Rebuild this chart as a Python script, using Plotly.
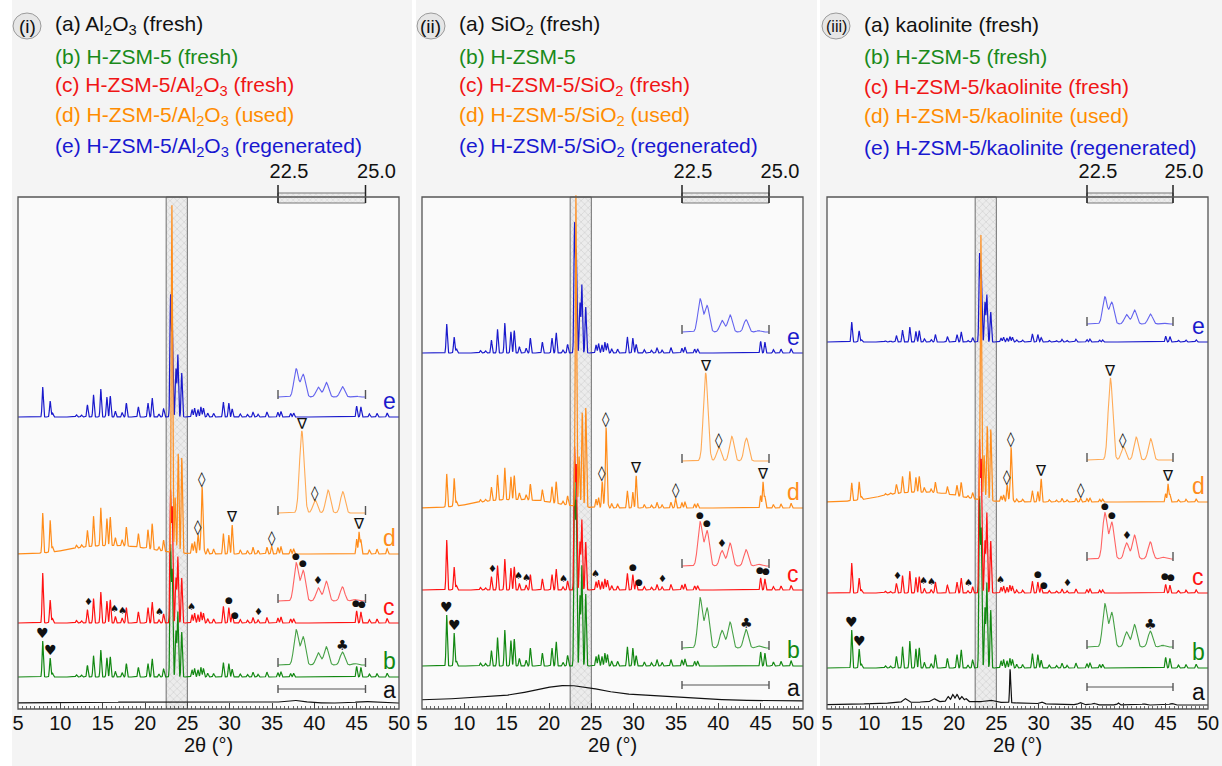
import numpy as np
import plotly.graph_objects as go

W, H = 1222, 766

# ---------------------------------------------------------------- data
X_RANGE = [5, 50]
X_TICKS = [5, 10, 15, 20, 25, 30, 35, 40, 45, 50]
BAND = [22.5, 25.0]
SERIES = ["b", "c", "d", "e"]

# H-ZSM-5 reflections outside the 22.5-25 window (height relative to the 14.8 deg peak)
ZSM_POS = [9.08, 11.90, 12.50, 13.20, 13.92, 14.78, 15.50, 15.90, 16.50, 17.30, 17.80, 19.22,
           20.35, 20.85, 21.65, 22.20, 25.55, 25.85, 26.25, 26.60, 26.90, 27.40, 28.10, 29.25,
           29.90, 30.30, 31.25, 32.10, 32.75, 33.35, 34.40, 35.70, 36.05, 37.20, 37.55, 45.00,
           45.50, 46.50, 47.40, 48.60]
ZSM_REL = [0.14, 0.08, 0.07, 0.43, 0.79, 1.00, 0.71, 0.75, 0.21, 0.16, 0.50, 0.36,
           0.50, 0.68, 0.10, 0.29, 0.27, 0.32, 0.27, 0.36, 0.32, 0.14, 0.13, 0.54,
           0.50, 0.29, 0.11, 0.09, 0.18, 0.10, 0.18, 0.16, 0.20, 0.13, 0.14, 0.39,
           0.36, 0.11, 0.13, 0.14]
LOW_POS = [7.92, 8.80]
BAND_POS = [23.02, 23.22, 23.65, 23.88, 24.34]
D_BAND_POS = [23.18, 23.56, 23.93, 24.35]
D_PHASE_POS = [26.30, 26.75, 30.30, 34.95, 45.28]
HUMP_POS = [13.5, 18.5]
INSET_POS = [23.02, 23.22, 23.65, 23.88, 24.34, 24.70]
INSET_REL = [1.00, 0.80, 0.35, 0.52, 0.37, 0.04]
D_INSET_POS = [23.18, 23.56, 23.93, 24.35]
D_INSET_REL = [1.00, 0.16, 0.28, 0.26]

# panel (i) Al2O3 ; lists ordered b, c, d, e
P1_SCALE = [27, 31, 38, 28]
P1_LOW = [[36, 19], [50, 23], [40, 32], [30, 16]]
P1_BAND = [[130, 104, 46, 65, 45], [130, 113, 45, 66, 45], [347, 55, 100, 96], [120, 92, 48, 62, 44]]
P1_D_PHASE = [10, 64, 18, 8, 22]
P1_HUMP = [6, 6]
P1_INSET = [35, 38, 82, 28]
P1_A_POS = [20.0, 37.5, 46.0]
P1_A_H = [1.0, 2.5, 1.5]
P1_A_W = [8.0, 1.2, 1.0]

# panel (ii) SiO2
P2_SCALE = [36, 31, 32, 30]
P2_LOW = [[51, 33], [50, 23], [33, 28], [29, 16]]
P2_BAND = [[200, 160, 70, 100, 72], [140, 122, 48, 70, 48], [311, 50, 95, 100], [128, 100, 50, 68, 46]]
P2_D_PHASE = [19, 78, 23, 10, 26]
P2_HUMP = [6, 6]
P2_INSET = [50, 44, 88, 33]
P2_A_POS = [22.0, 20.0, 30.0]
P2_A_H = [9.0, 5.0, 3.0]
P2_A_W = [3.5, 9.0, 7.0]

# panel (iii) kaolinite
P3_SCALE = [27, 22, 21, 15]
P3_LOW = [[38, 19], [30, 15], [18, 18], [20, 11]]
P3_BAND = [[168, 135, 60, 85, 58], [150, 130, 52, 80, 52], [265, 45, 75, 72], [87, 69, 40, 47, 30]]
P3_D_PHASE = [12, 53, 17, 4, 18]
P3_HUMP = [7, 7]
P3_INSET = [43, 46, 82, 27]
P3_A_POS = [20.0, 14.2, 17.6, 19.3, 19.85, 20.35, 20.9, 21.4, 24.2, 26.63, 30.3, 34.9, 36.5, 39.4, 42.4, 45.7]
P3_A_H = [3.5, 4, 3, 5, 7, 7, 5, 3, 2, 34, 2, 2, 1.5, 2, 1, 1.5]
P3_A_W = [7, 0.25, 0.25, 0.15, 0.15, 0.15, 0.15, 0.15, 0.5, 0.06, 0.2, 0.2, 0.2, 0.1, 0.2, 0.2]

# peak markers
B_MARKS = [("♥", 7.92), ("♥", 8.80)]
C_MARKS = [("♦", 13.3), ("♠", 16.45), ("♠", 17.35), ("♠", 21.7), ("♠", 25.45), ("●", 29.95),
           ("●", 30.6), ("♦", 33.38), ("●", 44.9), ("●", 45.6)]
D_MARKS = [("◊", 26.3), ("◊", 26.75), ("∇", 30.3), ("◊", 34.95), ("∇", 45.28)]
B_INSET_MARKS = [("♣", 24.34)]
C_INSET_MARKS = [("●", 23.02), ("●", 23.22), ("♦", 23.65)]
D_INSET_MARKS = [("∇", 23.18), ("◊", 23.56)]

HEAD = [
    ["(a) Al<sub>2</sub>O<sub>3</sub> (fresh)", "(b) H-ZSM-5 (fresh)",
     "(c) H-ZSM-5/Al<sub>2</sub>O<sub>3</sub> (fresh)", "(d) H-ZSM-5/Al<sub>2</sub>O<sub>3</sub> (used)",
     "(e) H-ZSM-5/Al<sub>2</sub>O<sub>3</sub> (regenerated)"],
    ["(a) SiO<sub>2</sub> (fresh)", "(b) H-ZSM-5", "(c) H-ZSM-5/SiO<sub>2</sub> (fresh)",
     "(d) H-ZSM-5/SiO<sub>2</sub> (used)", "(e) H-ZSM-5/SiO<sub>2</sub> (regenerated)"],
    ["(a) kaolinite (fresh)", "(b) H-ZSM-5 (fresh)", "(c) H-ZSM-5/kaolinite (fresh)",
     "(d) H-ZSM-5/kaolinite (used)", "(e) H-ZSM-5/kaolinite (regenerated)"],
]
PANEL_TAG = ["(i)", "(ii)", "(iii)"]

# ---------------------------------------------------------------- layout constants
PANEL_PX = [(18, 399), (422, 803), (827, 1208)]
INSET_PX = [(278, 365.5), (682, 769), (1087, 1173)]
FRAME_TOP, FRAME_BOT, DOM_TOP = 197, 709, 183
Y_TOP = FRAME_BOT - DOM_TOP
FRAME_H = FRAME_BOT - FRAME_TOP
OFFS = [[6, 32, 86, 155, 292], [8, 43, 119, 201, 356], [4, 41, 116, 207, 367]]      # a b c d e
INSET_OFFS = [[20, 44, 108, 196, 312], [24, 61, 143, 248, 377], [22, 62, 150, 249, 385]]
HEAD_Y = [25, 56, 86, 116, 147]
COL = {"a": "#111111", "b": "#128812", "c": "#ff1212", "d": "#ff8c1a", "e": "#1a1acc"}
INSET_COL = {"a": "#555555", "b": "#45a045", "c": "#ff6363", "d": "#ffaa55", "e": "#6363ee"}
HEAD_COL = ["#111111", "#1a8a1a", "#f01515", "#ff8c00", "#1818d0"]
FONT = "Arial, Liberation Sans, sans-serif"
SYM_FONT = "DejaVu Sans"
SHARP = 0.075
INSET_W = 0.065
DELTA = 0.05

SCALES = [P1_SCALE, P2_SCALE, P3_SCALE]
LOWS = [P1_LOW, P2_LOW, P3_LOW]
BANDS = [P1_BAND, P2_BAND, P3_BAND]
PHASES = [P1_D_PHASE, P2_D_PHASE, P3_D_PHASE]
HUMPS = [P1_HUMP, P2_HUMP, P3_HUMP]
INSETS = [P1_INSET, P2_INSET, P3_INSET]
A_PEAKS = [(P1_A_POS, P1_A_H, P1_A_W), (P2_A_POS, P2_A_H, P2_A_W), (P3_A_POS, P3_A_H, P3_A_W)]

X = np.arange(X_RANGE[0], X_RANGE[1] + 1e-9, 0.02)
XI = np.arange(BAND[0], BAND[1] + 1e-9, 0.005)


def peaks(x, pos, hts, width):
    w = np.broadcast_to(np.asarray(width, float), (len(pos),))
    y = np.zeros_like(x)
    for p, h, s in zip(pos, hts, w):
        y = y + h * np.exp(-0.5 * ((x - p) / s) ** 2)
    return y


def px_x(px):
    return px / W


def px_y(py):
    return 1 - py / H


def local_top(x, y, at, half=0.12):
    m = (x >= at - half) & (x <= at + half)
    return float(y[m].max())


fig = go.Figure()
shapes, annotations = [], []

# page backgrounds
for x0, x1 in [(12, 412), (416, 817), (820, 1222)]:
    shapes.append(dict(type="rect", xref="paper", yref="paper", x0=px_x(x0), x1=px_x(x1),
                       y0=0, y1=1, fillcolor="#f4f4f4", line=dict(width=0), layer="below"))

for p in range(3):
    xa = "x" if p == 0 else f"x{p + 1}"
    ya = "y" if p == 0 else f"y{p + 1}"
    xi = f"x{p + 4}"
    x0, x1 = PANEL_PX[p]

    # plot area
    shapes.append(dict(type="rect", xref="paper", yref="paper", x0=px_x(x0), x1=px_x(x1),
                       y0=px_y(FRAME_BOT), y1=px_y(FRAME_TOP), fillcolor="#fafafa",
                       line=dict(width=0), layer="below"))

    # hatched 22.5-25 window
    fig.add_trace(go.Scatter(
        x=[BAND[0], BAND[1], BAND[1], BAND[0], BAND[0]], y=[0, 0, FRAME_H, FRAME_H, 0],
        xaxis=xa, yaxis=ya, mode="lines", fill="toself", fillcolor="#ececec",
        fillpattern=dict(shape="x", size=5, solidity=0.25, fgcolor="#b8b8b8", bgcolor="#ececec"),
        line=dict(color="#6e6e6e", width=1), hoverinfo="skip", showlegend=False))

    # (a) support pattern
    ap, ah, aw = A_PEAKS[p]
    traces = {"a": OFFS[p][0] + peaks(X, ap, ah, aw)}
    for k, s in enumerate(SERIES):
        y = OFFS[p][k + 1] + peaks(X, ZSM_POS, np.array(ZSM_REL) * SCALES[p][k], SHARP)
        y = y + peaks(X, LOW_POS, LOWS[p][k], SHARP)
        if s == "d":
            y = y + peaks(X, D_BAND_POS, BANDS[p][k], SHARP)
            y = y + peaks(X, D_PHASE_POS, PHASES[p], SHARP)
            y = y + peaks(X, HUMP_POS, HUMPS[p], 3.0)
        else:
            y = y + peaks(X, BAND_POS, BANDS[p][k], SHARP)
        traces[s] = y

    for s in ["a", "e", "b", "c", "d"]:
        fig.add_trace(go.Scatter(x=X, y=traces[s], xaxis=xa, yaxis=ya, mode="lines",
                                 line=dict(color=COL[s], width=1.2), hoverinfo="skip",
                                 showlegend=False))
        off = OFFS[p]["abcde".index(s)]
        annotations.append(dict(xref=xa, yref=ya, x=48.85, y=off + (13 if s == "a" else 16),
                                text=s, showarrow=False, font=dict(family=FONT, size=23, color=COL[s])))

    # insets (22.5-25 zoom)
    inset_traces = {}
    for k, s in enumerate(["a"] + SERIES):
        off = INSET_OFFS[p][k]
        if s == "a":
            xv, yv = np.array([BAND[0], BAND[1]]), np.array([off, off])
        elif s == "d":
            xv = XI
            yv = off + peaks(XI, D_INSET_POS, np.array(D_INSET_REL) * INSETS[p][k - 1], INSET_W)
        else:
            xv = XI
            yv = off + peaks(XI, INSET_POS, np.array(INSET_REL) * INSETS[p][k - 1], INSET_W)
        inset_traces[s] = (xv, yv)
        fig.add_trace(go.Scatter(x=xv, y=yv, xaxis=xi, yaxis=ya, mode="lines",
                                 line=dict(color=INSET_COL[s], width=1.1), hoverinfo="skip",
                                 showlegend=False))
        lo, hi = (off - 4, off + 4) if s == "a" else (off - 2, off + 7)
        for xb in BAND:
            fig.add_trace(go.Scatter(x=[xb, xb], y=[lo, hi], xaxis=xi, yaxis=ya, mode="lines",
                                     line=dict(color="#555555", width=1.4), hoverinfo="skip",
                                     showlegend=False))

    # scale bar above the frame
    fig.add_trace(go.Scatter(
        x=[BAND[0], BAND[1], BAND[1], BAND[0], BAND[0]], y=[506, 506, 516, 516, 506],
        xaxis=xi, yaxis=ya, mode="lines", fill="toself", fillcolor="#ececec",
        fillpattern=dict(shape="x", size=4, solidity=0.25, fgcolor="#c0c0c0", bgcolor="#ececec"),
        line=dict(color="#777777", width=1), hoverinfo="skip", showlegend=False))
    for xb in BAND:
        fig.add_trace(go.Scatter(x=[xb, xb], y=[506, 524], xaxis=xi, yaxis=ya, mode="lines",
                                 line=dict(color="#222222", width=1.5), hoverinfo="skip",
                                 showlegend=False))

    # frame
    shapes.append(dict(type="rect", xref="paper", yref="paper", x0=px_x(x0), x1=px_x(x1),
                       y0=px_y(FRAME_BOT), y1=px_y(FRAME_TOP), line=dict(color="#555555", width=1.3),
                       fillcolor="rgba(0,0,0,0)", layer="above"))

    # peak markers on main traces
    for s, marks, size in [("b", B_MARKS, 14), ("c", C_MARKS, 10), ("d", D_MARKS, 15)]:
        for sym, at in marks:
            sz = 9 if sym == "●" else size
            top = local_top(X, traces[s], at)
            annotations.append(dict(xref=xa, yref=ya, x=at, y=top + 8, text=sym, showarrow=False,
                                    font=dict(family=SYM_FONT, size=sz, color="#111111")))
    for s, marks, size in [("b", B_INSET_MARKS, 14), ("c", C_INSET_MARKS, 11), ("d", D_INSET_MARKS, 15)]:
        xv, yv = inset_traces[s]
        for sym, at in marks:
            sz = 9 if sym == "●" else size
            top = local_top(xv, yv, at, 0.04)
            annotations.append(dict(xref=xi, yref=ya, x=at, y=top + 7, text=sym, showarrow=False,
                                    font=dict(family=SYM_FONT, size=sz, color="#111111")))

    # header
    tx = x0 + 35
    for i, line in enumerate(HEAD[p]):
        annotations.append(dict(xref="paper", yref="paper", x=px_x(tx), y=px_y(HEAD_Y[i]),
                                xanchor="left", yanchor="middle", text=line, showarrow=False,
                                font=dict(family=FONT, size=21, color=HEAD_COL[i])))
    cx = x0 + 9
    shapes.append(dict(type="circle", xref="paper", yref="paper", x0=px_x(cx - 14), x1=px_x(cx + 14),
                       y0=px_y(26 + 13), y1=px_y(26 - 13), fillcolor="#e6e6e6",
                       line=dict(color="#9a9a9a", width=1)))
    annotations.append(dict(xref="paper", yref="paper", x=px_x(cx), y=px_y(26), text=PANEL_TAG[p],
                            showarrow=False, xanchor="center", yanchor="middle",
                            font=dict(family=FONT, size=19 if p < 2 else 16, color="#111111")))

    # axes
    ax_main = dict(domain=[px_x(x0), px_x(x1)], anchor=ya, range=X_RANGE, tickvals=X_TICKS,
                   ticks="inside", ticklen=6, tickwidth=1, tickcolor="#444444", automargin=False,
                   minor=dict(tick0=5, dtick=0.5, ticks="inside", ticklen=3, tickcolor="#666666"),
                   showline=False, showgrid=False, zeroline=False,
                   tickfont=dict(family=FONT, size=20, color="#111111"),
                   title=dict(text="2θ (°)", font=dict(family=FONT, size=20, color="#111111"), standoff=4))
    ay = dict(domain=[px_y(FRAME_BOT), px_y(DOM_TOP)], range=[0, Y_TOP], visible=False,
              anchor=xa, fixedrange=True, automargin=False)
    ix0, ix1 = INSET_PX[p]
    ppu = (ix1 - ix0) / (BAND[1] - BAND[0])
    ax_inset = dict(domain=[px_x(ix0 - DELTA * ppu), px_x(ix1 + DELTA * ppu)], anchor=ya, side="top",
                    range=[BAND[0] - DELTA, BAND[1] + DELTA], tickvals=BAND, ticktext=["22.5", "25.0"],
                    ticks="", showline=False, showgrid=False, zeroline=False, ticklabelshift=11,
                    automargin=False, tickfont=dict(family=FONT, size=20, color="#111111"))
    fig.layout["xaxis" + ("" if p == 0 else str(p + 1))] = ax_main
    fig.layout["yaxis" + ("" if p == 0 else str(p + 1))] = ay
    fig.layout[f"xaxis{p + 4}"] = ax_inset

fig.update_layout(width=W, height=H, margin=dict(l=0, r=0, t=0, b=0, autoexpand=False),
                  paper_bgcolor="#ffffff", plot_bgcolor="rgba(0,0,0,0)", shapes=shapes,
                  annotations=annotations, showlegend=False)
fig.write_html("out.html")
